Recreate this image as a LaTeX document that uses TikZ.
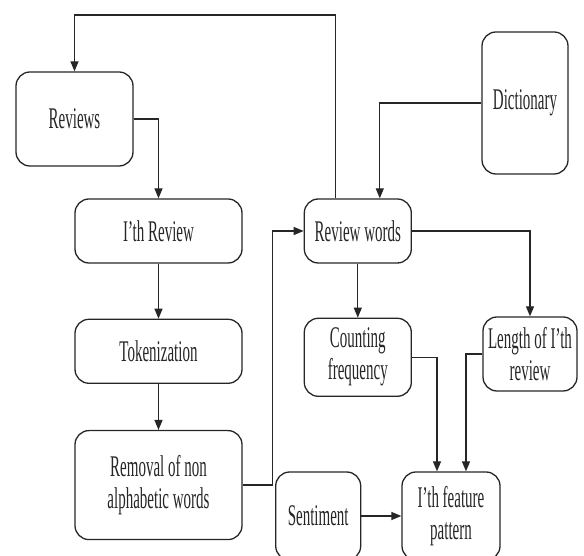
\documentclass[tikz,border=0pt]{standalone}
\usepackage{fontspec}
\setmainfont[FakeStretch=0.5]{Liberation Serif}
\usetikzlibrary{arrows.meta,positioning}

\begin{document}
\begin{tikzpicture}[
  x=1pt, y=1pt,
  block/.style={rectangle, draw=black!85, line width=1.3pt,
    rounded corners=14pt, align=center, inner sep=0pt,
    text=black!85, font=\fontsize{30}{32}\selectfont},
  arrow/.style={-{Triangle[length=10pt,width=8pt]}, line width=1.3pt, black!85},
]
  \useasboundingbox (0,0) rectangle (584,556);
  \clip (0,0) rectangle (584,556);

  \node[block, minimum width=117pt, minimum height=94pt] (reviews) at (74.5,437) {Reviews};
  \node[block, minimum width=167pt, minimum height=64pt] (ith) at (158.5,325) {I'th Review};
  \node[block, minimum width=167pt, minimum height=64pt, below=55pt of ith] (token) {Tokenization};
  \node[block, minimum width=167pt, minimum height=109pt, below=46pt of token] (removal)
       {Removal of non\\alphabetic words};

  \node[block, minimum width=107pt, minimum height=64pt, right=61pt of ith] (words) {Review words};
  \node[block, minimum width=86pt, minimum height=142pt] (dict) at (525,453) {Dictionary};
  \node[block, minimum width=107pt, minimum height=78pt, below=54pt of words] (count)
       {Counting\\frequency};
  \node[block, minimum width=94pt, minimum height=74pt] (length) at (530,202)
       {Length of I'th\\review};

  \node[block, minimum width=98pt, minimum height=88pt] (feature) at (451,40)
       {I'th feature\\pattern};
  \node[block, minimum width=85pt, minimum height=88pt, left=40pt of feature] (senti) {Sentiment};

  % feedback line over the top
  \coordinate (top) at (0,541);
  \draw[arrow] ([xshift=-22pt]words.north) -- ([xshift=-22pt]words.north |- top)
               -- (reviews.north |- top) -- (reviews.north);

  \draw[arrow] (reviews.east) -| (ith.north);
  \draw[arrow] (ith) -- (token);
  \draw[arrow] (token) -- (removal);
  \draw[arrow] (removal.east) -- ++(30,0) |- (words.west);
  \draw[arrow] (dict.west) -| ([xshift=22pt]words.north);
  \draw[arrow] (words.east) -| (length.north);
  \draw[arrow] (words) -- (count);
  \draw[arrow] (count.east) -| ([xshift=-14pt]feature.north);
  \draw[arrow] (length.west) -| ([xshift=15pt]feature.north);
  \draw[arrow] (senti) -- (feature);
\end{tikzpicture}
\end{document}
